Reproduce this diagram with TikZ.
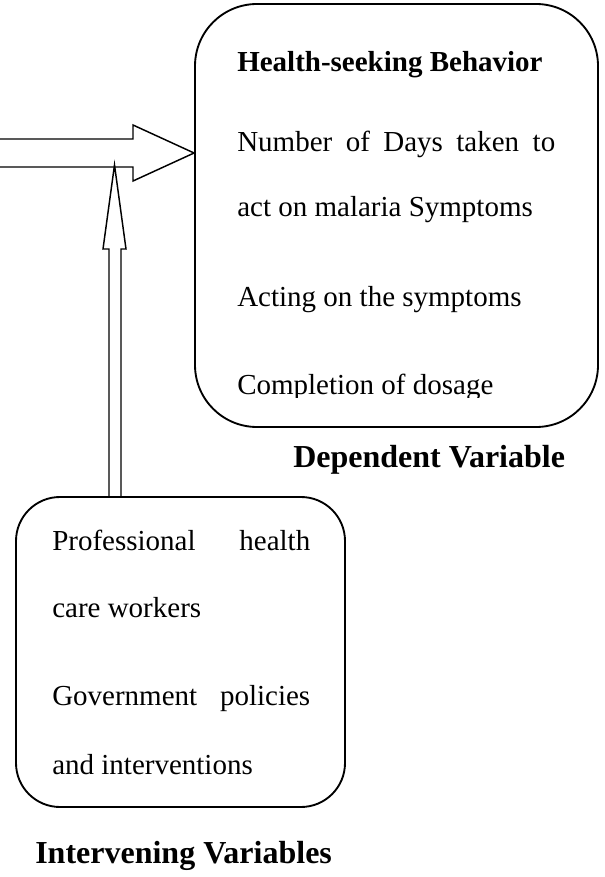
\documentclass[tikz,border=0pt]{standalone}
\usepackage{fontspec}
\setmainfont{Liberation Serif}
\usetikzlibrary{calc}
\begin{document}
\begin{tikzpicture}[x=0.75pt,y=-0.75pt,
  varbox/.style={draw, line width=1.4pt, rounded corners=#1, inner sep=0pt},
  bodytext/.style={inner sep=0pt, anchor=base west, font=\fontsize{21.75pt}{26pt}\selectfont},
  headtext/.style={inner sep=0pt, anchor=base west, font=\fontsize{21.75pt}{26pt}\selectfont\bfseries},
  labeltext/.style={inner sep=0pt, anchor=base west, font=\fontsize{24pt}{28pt}\selectfont\bfseries},
  blockarrow/.style={draw, line width=1.1pt, line join=miter}]
\useasboundingbox (0,0) rectangle (605,877);

% the two variable boxes
\node[varbox=46.5pt, minimum width=302.25pt, minimum height=317.25pt] (dep) at (396.5,215.5) {};
\node[varbox=33pt, minimum width=246.75pt, minimum height=232.5pt] (intv) at (180.5,652) {};

% dependent variable contents
\node[headtext] (dephead) at (237,72) {Health-seeking Behavior};
\node[bodytext] (days) at (237,152) {\makebox[238.5pt][s]{Number of Days taken to}};
\node[bodytext] (act) at (237,217) {act on malaria Symptoms};
\node[bodytext] (acting) at (237,306) {Acting on the symptoms};
\begin{scope}
  \clip (190,0) rectangle (600,397);
  \node[bodytext] (dosage) at (237,394) {Completion of dosage};
\end{scope}
\node[labeltext] (deplabel) at (293,467) {Dependent Variable};

% intervening variable contents
\node[bodytext] (prof) at (52,550) {\makebox[193.5pt][s]{Professional health}};
\node[bodytext] (care) at (52,617) {care workers};
\node[bodytext] (gov) at (52,705) {\makebox[193.5pt][s]{Government policies}};
\node[bodytext] (interv) at (52,774) {and interventions};
\node[labeltext] (intvlabel) at (35,863) {Intervening Variables};

% block arrow from the left into the dependent box
\coordinate (tipH) at (dep.west |- 0,153);
\draw[blockarrow] (-5,139) -- (133,139) -- (133,125) -- (tipH)
  -- (133,181) -- (133,167) -- (-5,167);

% block arrow rising from the intervening box
\coordinate (vx) at (115,0);
\coordinate (vbase) at (intv.north -| vx);
\coordinate (tipV) at (114.5,165);
\draw[blockarrow] ($(vbase)+(-6,0)$) -- (109,249) -- (103,249) -- (tipV)
  -- (126,249) -- (121,249) -- ($(vbase)+(6,0)$);
\end{tikzpicture}
\end{document}
